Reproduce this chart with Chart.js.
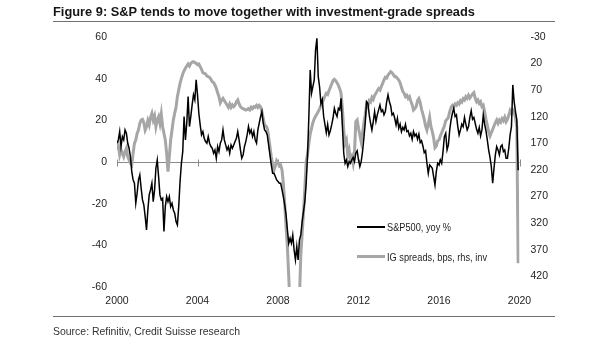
<!DOCTYPE html>
<html><head><meta charset="utf-8">
<script src="https://cdn.jsdelivr.net/npm/chart.js@4.4.0/dist/chart.umd.min.js"></script>
<style>
html,body{margin:0;padding:0;background:#fff;}
#wrap{position:relative;width:605px;height:341px;overflow:hidden;font-family:"Liberation Sans",Arial,sans-serif;}
canvas{position:absolute;left:0;top:0;}
.t{position:absolute;white-space:nowrap;transform-origin:0 50%;color:#1e1e1e;}
.rule{position:absolute;height:1px;background:#707070;}
.sw{position:absolute;}
</style></head><body>
<div id="wrap">
<canvas id="c" width="605" height="341"></canvas>
<div class="t" data-w="422" style="left:53px;top:5px;font-weight:bold;font-size:12.5px;line-height:14px;color:#161616;">Figure 9: S&amp;P tends to move together with investment-grade spreads</div>
<div class="rule" style="left:53px;top:21px;width:502px;"></div>
<div class="sw" style="left:357px;top:226px;width:28px;height:2px;background:#000;"></div>
<div class="t" data-w="64" style="left:387px;top:221px;font-size:11px;line-height:13px;">S&amp;P500, yoy %</div>
<div class="sw" style="left:357px;top:255px;width:28px;height:3px;background:#a6a6a6;"></div>
<div class="t" data-w="100" style="left:387px;top:251px;font-size:11px;line-height:13px;">IG spreads, bps, rhs, inv</div>
<div class="rule" style="left:53px;top:316px;width:502px;"></div>
<div class="t" data-w="187" style="left:53px;top:325px;font-size:11px;line-height:13px;color:#333;">Source: Refinitiv, Credit Suisse research</div>
</div>
<script>
// ---- data (time grid: 15 observations per year starting Jan 2000) ----
const startYear = 2000;
const obsPerYear = 15;

const spxYoY = [
 9.0,10.6,14.6,7.4,12.2,10.6,15.4,13.8,9.0,6.6,
 2.6,-4.6,-8.6,-10.2,-19.8,-15.0,-8.6,-6.2,-12.6,-18.2,
 -20.6,-26.2,-32.6,-23.0,-15.8,-13.4,-10.2,-19.0,-13.4,-3.0,
 1.0,-7.0,-15.8,-18.2,-17.4,-33.4,-21.4,-16.6,-19.0,-16.6,
 -21.4,-19.8,-23.0,-24.6,-28.6,-30.2,-21.4,-9.4,-0.6,5.0,
 21.8,10.6,18.6,31.4,17.0,21.8,27.4,32.2,29.8,39.4,
 32.2,23.4,17.8,13.0,14.6,11.4,9.8,9.0,12.2,9.0,
 7.4,6.6,4.2,5.8,1.8,7.4,5.0,9.0,10.6,15.4,
 10.6,8.2,5.8,7.4,4.2,8.2,6.6,8.2,9.8,11.4,
 14.6,10.6,5.8,1.8,3.4,7.4,9.8,13.0,17.0,13.8,
 15.4,12.2,14.6,10.6,9.0,15.4,18.6,21.8,24.2,18.6,
 15.4,14.6,13.0,8.2,3.4,-1.4,-5.4,-5.4,-7.0,-8.6,
 -9.4,-10.2,-10.2,-13.4,-16.6,-20.6,-25.4,-32.6,-39.0,-36.6,
 -39.0,-35.0,-42.2,-47.0,-40.6,-47.0,-37.4,-35.0,-28.6,-23.8,
 -19.0,-10.2,2.6,21.8,44.2,33.0,36.2,39.4,53.8,59.4,
 41.0,36.0,28.0,30.0,22.0,18.0,14.0,18.0,13.0,15.0,
 17.8,21.0,25.8,23.4,21.8,25.8,25.0,30.6,17.0,4.2,
 -0.6,1.0,-2.2,0.2,-0.6,1.0,2.2,0.2,4.2,5.4,
 1.0,-2.2,0.2,5.0,11.4,18.6,29.0,28.2,22.6,18.6,
 15.4,19.4,24.2,19.4,22.6,25.0,27.4,24.2,25.0,22.6,
 24.2,29.0,32.2,29.0,26.9,22.6,23.4,21.0,17.8,21.0,
 16.2,18.2,14.6,16.6,15.4,18.1,14.6,15.0,12.5,13.8,
 10.9,14.6,12.5,13.4,10.9,13.4,9.3,10.2,7.7,4.5,
 5.4,-0.6,-5.4,-1.4,-2.2,-3.0,-7.0,-11.0,-4.6,-0.6,
 -1.4,1.0,-0.6,5.0,12.2,13.8,5.8,8.2,15.4,20.2,
 23.4,25.8,21.8,22.6,17.0,13.0,15.4,18.2,17.0,21.4,
 18.2,15.4,17.0,21.4,24.6,20.5,21.4,18.6,15.7,13.8,
 16.6,12.5,15.4,22.6,18.2,15.0,10.6,5.8,2.2,-2.2,
 -10.2,-3.0,3.4,7.4,5.8,3.4,7.4,8.2,5.0,5.8,
 1.8,1.8,6.6,13.0,17.0,37.0,29.0,24.2,20.2,-4.0
];

const igSpreadBps = [
 182.5,173.0,191.8,182.5,188.7,195.0,185.6,179.3,195.0,201.3,
 207.5,210.7,188.7,169.9,163.7,151.1,144.9,132.3,126.1,124.8,
 131.1,144.9,138.6,127.3,135.4,121.0,113.5,126.1,118.5,138.6,
 126.1,119.8,132.3,114.8,138.6,151.1,163.7,188.7,223.2,195.0,
 163.7,144.9,126.1,113.5,102.2,82.2,69.6,57.1,47.7,39.6,
 33.3,28.9,24.5,20.8,24.5,19.5,17.0,16.4,18.3,19.5,
 22.0,20.8,25.8,30.8,37.1,38.3,39.6,43.3,44.6,45.8,
 49.6,54.0,55.8,60.2,66.5,74.7,82.2,93.5,88.4,85.3,
 89.7,93.5,97.8,102.2,96.0,102.2,97.8,101.0,97.8,91.6,
 88.4,96.0,101.0,103.5,104.7,106.0,107.2,106.0,104.7,107.2,
 102.2,104.7,101.0,102.2,98.5,102.2,98.5,101.0,110.4,122.9,
 135.4,137.3,141.7,157.4,176.2,195.0,210.7,220.1,212.5,202.5,
 206.3,212.5,210.7,220.1,245.1,282.7,326.6,364.2,420,480,
 540,520,500,560,600,540,460,380,340,300,
 255,205,190,170,152,142,131,124,119,115,
 110,105,99,93,87,81,76,78,70.9,64.6,
 58.4,52.1,49.6,52.1,55.9,60.9,67.1,75.9,104.1,144.9,
 169.9,163.7,191.8,182.5,201.3,195.0,207.5,188.7,129.2,126.1,
 141.7,154.2,166.8,151.1,132.3,116.6,97.8,101.0,89.7,92.2,
 83.4,87.2,79.7,75.9,70.9,67.1,69.6,63.4,57.1,50.8,
 45.8,47.1,41.4,38.3,35.2,37.1,40.8,44.6,44.6,47.7,
 50.8,55.9,64.6,72.2,75.9,82.2,79.7,85.3,82.2,90.9,
 97.2,107.2,104.7,101.0,89.7,85.9,93.5,106.0,114.8,124.8,
 137.3,144.9,133.6,121.0,138.6,148.0,160.0,178.0,175.0,165.0,
 163.7,156.1,149.9,143.6,137.3,127.3,124.8,121.0,110.4,102.2,
 98.5,101.0,96.0,98.5,93.5,96.0,89.7,92.2,85.9,88.4,
 82.2,85.3,79.7,84.7,80.9,77.2,74.7,85.3,91.6,88.4,
 94.7,91.6,101.0,98.5,110.4,124.8,135.4,148.0,156.1,149.9,
 143.6,137.3,131.1,126.1,132.3,126.1,129.8,123.5,127.3,121.0,
 129.2,124.8,117.3,108.5,113.5,107.2,112.3,121.0,138.6,395.5
];

const xTickYears = [2000, 2004, 2008, 2012, 2016, 2020];
const leftTicks = [-60, -40, -20, 0, 20, 40, 60];
const rightTicks = [-30, 20, 70, 120, 170, 220, 270, 320, 370, 420];

const obsDates = spxYoY.map((_, i) => startYear + i / obsPerYear);

// ---- fonts ----
function hasFont(name){
  const c = document.createElement('canvas').getContext('2d');
  c.font = '20px monospace'; const a = c.measureText('2000 abcdefgh').width;
  c.font = '20px "' + name + '", monospace'; const b = c.measureText('2000 abcdefgh').width;
  return Math.abs(a - b) > 0.5;
}
const narrow = hasFont('Liberation Sans Narrow');
const tickFont = narrow ? {family:'"Liberation Sans Narrow", "Liberation Sans", Arial', size:11.5}
                        : {family:'"Liberation Sans", Arial', size:10.5};

document.querySelectorAll('.t[data-w]').forEach(el => {
  const w = el.getBoundingClientRect().width;
  const target = parseFloat(el.dataset.w);
  if (w > 0) el.style.transform = 'scaleX(' + (target / w).toFixed(4) + ')';
});

const axisMarks = {
  id: 'axisMarks',
  beforeDatasetsDraw(chart){
    const {ctx, scales:{x, y}} = chart;
    const y0 = Math.round(y.getPixelForValue(0)) + 0.5;
    ctx.save();
    ctx.strokeStyle = '#8a8a8a'; ctx.lineWidth = 1;
    ctx.beginPath();
    xTickYears.forEach(v => {
      const px = Math.round(x.getPixelForValue(v)) + 0.5;
      ctx.moveTo(px, y0 - 3); ctx.lineTo(px, y0 + 4);
    });
    ctx.stroke();
    ctx.restore();
  }
};

new Chart(document.getElementById('c').getContext('2d'), {
  type: 'line',
  data: {
    datasets: [
      { label: 'S&P500, yoy %', yAxisID: 'y',
        data: obsDates.map((d, i) => ({x: d, y: spxYoY[i]})),
        borderColor: '#000', borderWidth: 1.5, pointRadius: 0, tension: 0, order: 0, clip: 0 },
      { label: 'IG spreads, bps, rhs, inv', yAxisID: 'y2',
        data: obsDates.map((d, i) => ({x: d, y: igSpreadBps[i]})),
        borderColor: '#a6a6a6', borderWidth: 3, pointRadius: 0, tension: 0, order: 1, clip: 0 }
    ]
  },
  options: {
    responsive: false, animation: false, events: [],
    layout: { padding: { top: 37, left: 0, right: 0, bottom: 0 } },
    plugins: { legend: { display: false }, tooltip: { enabled: false }, title: { display: false } },
    scales: {
      x: { type: 'linear', position: 'bottom', min: 2000, max: 2020,
        afterBuildTicks(s){ s.ticks = xTickYears.map(v => ({value: v})); },
        ticks: { callback: v => String(v), font: tickFont, color: '#1e1e1e', padding: 8, maxRotation: 0, autoSkip: false },
        grid: { display: false, drawTicks: false }, border: { display: false },
        afterFit(s){ s.height = 54; } },
      y: { position: 'left', min: -60, max: 60,
        afterBuildTicks(s){ s.ticks = leftTicks.map(v => ({value: v})); },
        ticks: { font: tickFont, color: '#1e1e1e', padding: 10 },
        grid: { drawTicks: false, lineWidth: 1, color: c => (c.tick && c.tick.value === 0) ? '#8a8a8a' : 'rgba(0,0,0,0)' },
        border: { display: false },
        afterFit(s){ s.width = 117; } },
      y2: { position: 'right', min: -30, max: 440, reverse: true,
        afterBuildTicks(s){ s.ticks = rightTicks.map(v => ({value: v})); },
        ticks: { font: tickFont, color: '#1e1e1e', padding: 11 },
        grid: { display: false, drawTicks: false }, border: { display: false },
        afterFit(s){ s.width = 85.5; } }
    }
  },
  plugins: [axisMarks]
});
</script>
</body></html>
